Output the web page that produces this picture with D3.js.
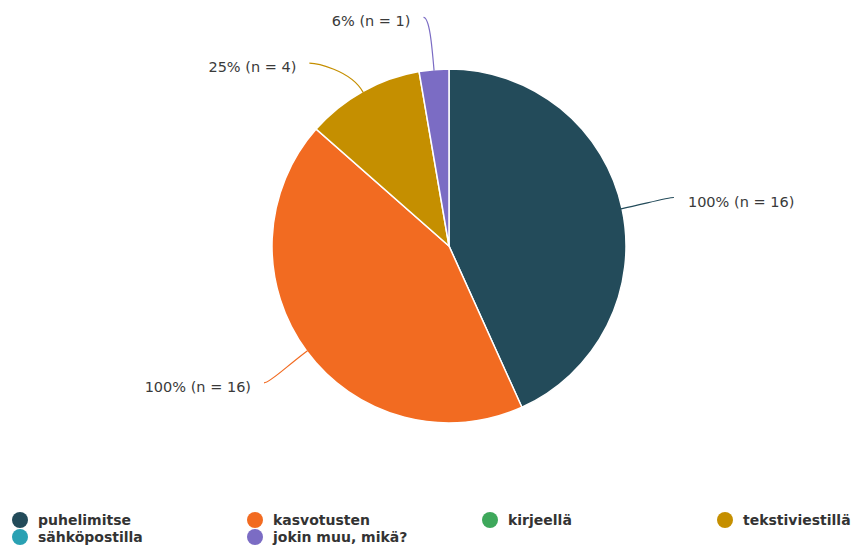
<!DOCTYPE html>
<html>
<head>
<meta charset="utf-8">
<script src="https://cdn.jsdelivr.net/npm/d3@7"></script>
<style>
  body { margin: 0; background: #fff; }
  svg { display: block; }
</style>
</head>
<body>
<div id="chart"></div>
<script>
var svgWidth = 855;
var svgHeight = 552;

// Answer categories (legend order) and their counts
var categories = ["puhelimitse", "kasvotusten", "kirjeellä", "tekstiviestillä", "sähköpostilla", "jokin muu, mikä?"];
var counts = [16, 16, 0, 4, 0, 1];
var colors = ["#234b5a", "#f26b21", "#3ea85b", "#c58f00", "#2aa1b3", "#7b6cc4"];
var respondents = 16;

// Pie geometry
var cx = 449, cy = 246, radius = 177;
var labelRadius = radius * 1.3;

var svg = d3.select("#chart")
  .append("svg")
  .attr("width", svgWidth)
  .attr("height", svgHeight);

var color = d3.scaleOrdinal().domain(categories).range(colors);

var data = categories.map(function(c, i) {
  return { name: c, n: counts[i] };
});

var pie = d3.pie()
  .sort(null)
  .value(d => d.n);

var arc = d3.arc()
  .innerRadius(0)
  .outerRadius(radius);

var arcs = pie(data).filter(d => d.data.n > 0);

var pieGroup = svg.append("g")
  .attr("transform", `translate(${cx}, ${cy})`);

pieGroup.selectAll("path.slice")
  .data(arcs)
  .enter()
  .append("path")
  .attr("class", "slice")
  .attr("d", arc)
  .attr("fill", d => color(d.data.name))
  .attr("stroke", "#fff")
  .attr("stroke-width", 1.5);

// Label angles: mid angle, spread apart when too close on the same side
arcs.forEach(function(d) {
  d.mid = (d.startAngle + d.endAngle) / 2;
  d.labelAngle = d.mid;
  d.right = Math.sin(d.mid) > 0;
});
var minGap = 31 * Math.PI / 180;
var leftSide = arcs.filter(d => !d.right)
  .sort((a, b) => b.mid - a.mid);
if (leftSide.length) leftSide[0].labelAngle -= 1.5 * Math.PI / 180;
for (var i = 1; i < leftSide.length; i++) {
  if (leftSide[i - 1].labelAngle - leftSide[i].labelAngle < minGap) {
    leftSide[i].labelAngle = leftSide[i - 1].labelAngle - minGap;
  }
}

function polar(a, r) {
  return [r * Math.sin(a), -r * Math.cos(a)];
}

var labelGroup = pieGroup.append("g");

labelGroup.selectAll("path.leader")
  .data(arcs)
  .enter()
  .append("path")
  .attr("class", "leader")
  .attr("fill", "none")
  .attr("stroke", d => color(d.data.name))
  .attr("stroke-width", 1.2)
  .attr("d", function(d) {
    var p0 = polar(d.mid, radius - 1);
    var c1 = polar(d.mid, radius * 1.14);
    var p2 = polar(d.labelAngle, labelRadius);
    var c2 = [p2[0] + (d.right ? -6 : 6), p2[1]];
    return "M" + p0 + "C" + c1 + " " + c2 + " " + p2;
  });

labelGroup.selectAll("text.label")
  .data(arcs)
  .enter()
  .append("text")
  .attr("class", "label")
  .attr("x", function(d) {
    var p = polar(d.labelAngle, labelRadius);
    return d.right ? p[0] + 14 : p[0] - 13;
  })
  .attr("y", d => polar(d.labelAngle, labelRadius)[1] + 4)
  .attr("dy", "0.35em")
  .attr("text-anchor", d => d.right ? "start" : "end")
  .style("font-family", "'DejaVu Sans', Verdana, sans-serif")
  .style("font-size", "14.5px")
  .attr("fill", "#3a3a3a")
  .text(d => Math.round(d.data.n / respondents * 100) + "% (n = " + d.data.n + ")");

// Legend: 4 columns, row-major
var legendX = d3.scalePoint().domain([0, 1, 2, 3]).range([20, 725]);
var legendY = d3.scalePoint().domain([0, 1]).range([520, 537]);

var legend = svg.append("g")
  .selectAll("g")
  .data(categories)
  .enter()
  .append("g")
  .attr("transform", (d, i) => `translate(${legendX(i % 4)}, ${legendY(Math.floor(i / 4))})`);

legend.append("circle")
  .attr("r", 8)
  .attr("fill", d => color(d));

legend.append("text")
  .attr("x", 18)
  .attr("dy", "0.35em")
  .style("font-family", "'DejaVu Sans', Verdana, sans-serif")
  .style("font-size", "14px")
  .style("font-weight", "bold")
  .attr("fill", "#333")
  .text(d => d);
</script>
</body>
</html>
